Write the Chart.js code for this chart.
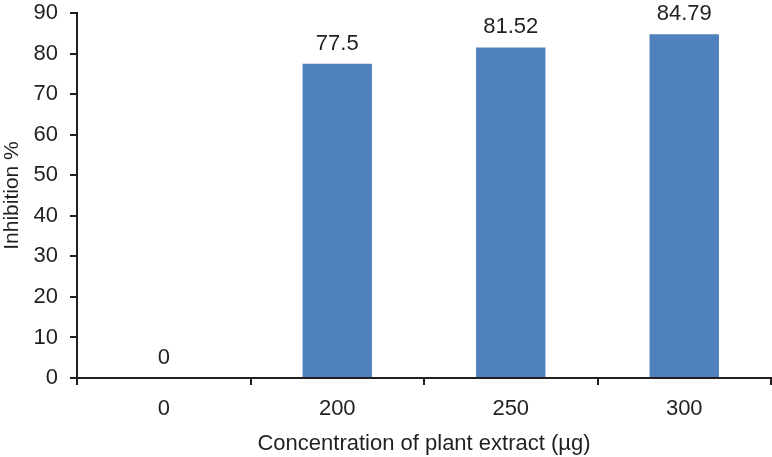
<!DOCTYPE html>
<html>
<head>
<meta charset="utf-8">
<script src="https://cdn.jsdelivr.net/npm/chart.js@4.4.1/dist/chart.umd.min.js"></script>
<style>
  html, body { margin: 0; padding: 0; background: #ffffff; }
  #wrap { width: 772px; height: 457px; position: relative; }
</style>
</head>
<body>
<div id="wrap"><canvas id="c" width="772" height="457"></canvas></div>
<script>
const categories = ["0", "200", "250", "300"];
const inhibition = [0, 77.5, 81.52, 84.79];
const valueLabels = ["0", "77.5", "81.52", "84.79"];
const yTicks = [0, 10, 20, 30, 40, 50, 60, 70, 80, 90];

const INK = "#231f20";
const FONT = "'Liberation Sans', Arial, Helvetica, sans-serif";

const dataLabelPlugin = {
  id: "dataLabels",
  afterDatasetsDraw(chart) {
    const ctx = chart.ctx;
    const meta = chart.getDatasetMeta(0);
    ctx.save();
    ctx.fillStyle = INK;
    ctx.font = "22px " + FONT;
    ctx.textAlign = "center";
    ctx.textBaseline = "bottom";
    meta.data.forEach((bar, i) => {
      ctx.fillText(valueLabels[i], bar.x, bar.y - 9);
    });
    ctx.restore();
  }
};

new Chart(document.getElementById("c"), {
  type: "bar",
  data: {
    labels: categories,
    datasets: [{
      data: inhibition,
      backgroundColor: "#4f81bd",
      borderWidth: 0,
      barPercentage: 0.4,
      categoryPercentage: 1.0
    }]
  },
  options: {
    responsive: false,
    animation: false,
    devicePixelRatio: 1,
    layout: { padding: { top: 13, right: 1, bottom: 0, left: 0 } },
    plugins: { legend: { display: false }, tooltip: { enabled: false } },
    scales: {
      x: {
        afterFit(scale) { scale.height = 79; scale.paddingLeft = 0; scale.paddingRight = 0; },
        grid: { offset: true, drawOnChartArea: false, drawTicks: true, tickLength: 7, color: INK, lineWidth: 2 },
        border: { display: true, color: INK, width: 2 },
        ticks: { color: INK, font: { family: FONT, size: 22 }, padding: 11 },
        title: { display: true, text: "Concentration of plant extract (\u00b5g)", color: INK,
                 font: { family: FONT, size: 22 }, padding: { top: 0, bottom: 0 } }
      },
      y: {
        min: 0, max: 90,
        afterBuildTicks(scale) { scale.ticks = yTicks.map(v => ({ value: v })); },
        afterFit(scale) { scale.width = 77; scale.paddingTop = 0; scale.paddingBottom = 0; },
        grid: { drawOnChartArea: false, drawTicks: true, tickLength: 7, color: INK, lineWidth: 2 },
        border: { display: true, color: INK, width: 2 },
        ticks: { color: INK, font: { family: FONT, size: 22 }, padding: 12 },
        title: { display: true, text: "Inhibition %", color: INK,
                 font: { family: FONT, size: 21 }, padding: { top: 0, bottom: 0 } }
      }
    }
  },
  plugins: [dataLabelPlugin]
});
</script>
</body>
</html>
